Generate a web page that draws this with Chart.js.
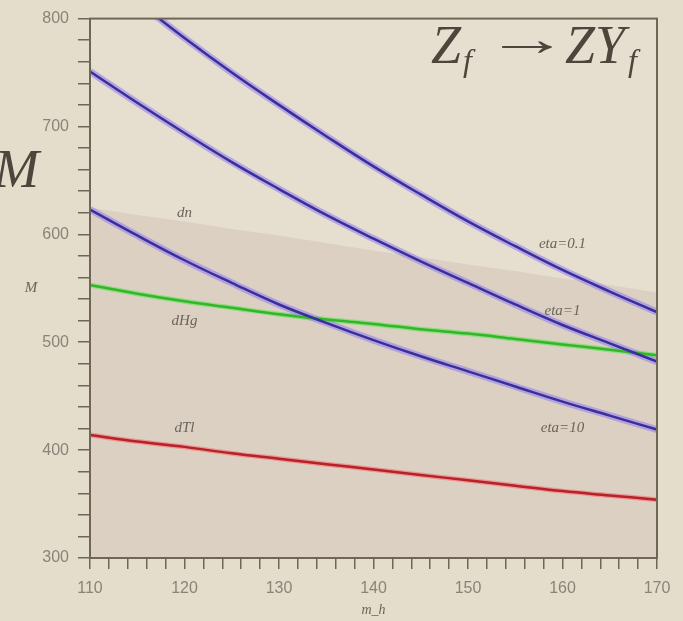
<!DOCTYPE html>
<html>
<head>
<meta charset="utf-8">
<script src="https://cdn.jsdelivr.net/npm/chart.js"></script>
<style>
  html, body { margin: 0; padding: 0; background: #e4ddcc; }
  #wrap { position: relative; width: 683px; height: 621px; overflow: hidden; }
  .tt { position: absolute; font-family: "Liberation Serif", serif; font-style: italic; color: #4d463d; white-space: nowrap; line-height: 1; }
  .big { font-size: 54px; top: 18px; }
  .sub { font-size: 32px; top: 44px; }
  #arrow { position: absolute; left: 485px; top: 15px; font-family: "Liberation Serif", serif; font-size: 48px; line-height: 1; color: #4d463d; transform: scaleX(1.75); transform-origin: left center; }
  #bigM { position: absolute; left: -6px; top: 142px; font-family: "Liberation Serif", serif; font-style: italic; font-size: 54px; line-height: 1; color: #4d463d; }
</style>
</head>
<body>
<div id="wrap">
  <canvas id="chart" width="683" height="621"></canvas>
  <div class="tt big" style="left:431px">Z</div>
  <div class="tt sub" style="left:463px">f</div>
  <div id="arrow">→</div>
  <div class="tt big" style="left:565px">ZY</div>
  <div class="tt sub" style="left:628px">f</div>
  <div id="bigM">M</div>
</div>
<script>
// m_h grid and curves
const mh = [110, 115, 120, 125, 130, 135, 140, 145, 150, 155, 160, 165, 170];
const eta01 = [852, 816, 782, 750, 720, 691, 663, 637, 612, 589, 567, 547, 528];
const eta1 = [751, 722, 694, 667, 642, 618, 596, 575, 555, 535, 516, 499, 482];
const eta10 = [623, 599, 576, 555, 535, 518, 502, 487, 473, 459, 445, 432, 419];
const dHg = [553, 545, 538, 532, 526, 521, 517, 512, 508, 503, 498, 493, 488];
const dTl = [414, 408, 403, 397, 392, 387, 382, 377, 372, 367, 362, 358, 354];
const dnEdge = [625, 618, 612, 605, 599, 592, 585, 579, 572, 566, 559, 553, 546];

const noteText = ["dn", "dHg", "dTl", "eta=0.1", "eta=1", "eta=10"];
const noteX = [120, 120, 120, 160, 160, 160];
const noteY = [620, 520, 420, 591, 529, 420];

const pts = arr => arr.map((v, i) => ({ x: mh[i], y: v }));

// glow lines sit under the dark core lines (higher order is drawn first)
function curve(arr, color, width, order) {
    return {
        data: pts(arr),
        borderColor: color,
        borderWidth: width,
        pointRadius: 0,
        tension: 0.4,
        fill: false,
        clip: 0,
        order: order
    };
}

const frame = {
    id: "frame",
    beforeDatasetsDraw(chart) {
        const a = chart.chartArea;
        const ctx = chart.ctx;
        ctx.save();
        ctx.fillStyle = "#e6dfcf";
        ctx.fillRect(a.left, a.top, a.right - a.left, a.bottom - a.top);
        ctx.restore();
    },
    afterDraw(chart) {
        const a = chart.chartArea;
        const ctx = chart.ctx;
        const xs = chart.scales.x, ys = chart.scales.y;
        ctx.save();
        ctx.strokeStyle = "#6e6659";
        ctx.lineWidth = 2;
        ctx.strokeRect(a.left, a.top, a.right - a.left, a.bottom - a.top);

        ctx.fillStyle = "#6a645a";
        ctx.font = "italic 15px 'Liberation Serif', serif";
        ctx.textAlign = "center";
        ctx.textBaseline = "middle";
        noteText.forEach((t, i) => {
            ctx.fillText(t, xs.getPixelForValue(noteX[i]), ys.getPixelForValue(noteY[i]));
        });

        ctx.font = "italic 15px 'Liberation Serif', serif";
        ctx.fillText("M", 31, 288);
        ctx.font = "italic 14px 'Liberation Serif', serif";
        ctx.fillText("m_h", (a.left + a.right) / 2, 610);
        ctx.restore();
    }
};

new Chart(document.getElementById("chart"), {
    type: "line",
    data: {
        datasets: [
            {
                data: pts(dnEdge),
                borderWidth: 0,
                pointRadius: 0,
                backgroundColor: "#dcd0c3",
                fill: "start",
                tension: 0,
                order: 10
            },
            curve(eta01, "rgba(150,130,240,0.6)", 7, 5),
            curve(eta01, "#3a2f98", 2.5, 1),
            curve(eta1, "rgba(150,130,240,0.6)", 7, 5),
            curve(eta1, "#3a2f98", 2.5, 1),
            curve(eta10, "rgba(150,130,240,0.6)", 7, 5),
            curve(eta10, "#3a2f98", 2.5, 1),
            curve(dHg, "rgba(90,230,80,0.6)", 5, 5),
            curve(dHg, "#36b52c", 2.5, 1),
            curve(dTl, "rgba(250,110,110,0.6)", 5, 5),
            curve(dTl, "#b4222a", 2.5, 1)
        ]
    },
    options: {
        responsive: false,
        animation: false,
        layout: { padding: { left: 0, top: 16, right: 26, bottom: 0 } },
        plugins: { legend: { display: false }, tooltip: { enabled: false } },
        scales: {
            x: {
                type: "linear",
                min: 110,
                max: 170,
                afterFit: s => { s.height = 621 - 558; },
                border: { display: false },
                grid: { drawOnChartArea: false, tickLength: 11, color: "#6e6659", lineWidth: 1.5 },
                ticks: {
                    stepSize: 2,
                    autoSkip: false,
                    maxRotation: 0,
                    padding: 10,
                    color: "#8a8378",
                    font: { family: "'Liberation Sans', sans-serif", size: 16 },
                    callback: v => (v % 10 === 0 ? v : "")
                }
            },
            y: {
                min: 300,
                max: 800,
                afterFit: s => { s.width = 90; },
                border: { display: false },
                grid: { drawOnChartArea: false, tickLength: 12, color: "#6e6659", lineWidth: 1.5 },
                ticks: {
                    stepSize: 20,
                    autoSkip: false,
                    padding: 9,
                    color: "#8a8378",
                    font: { family: "'Liberation Sans', sans-serif", size: 16 },
                    callback: v => (v % 100 === 0 ? v : "")
                }
            }
        }
    },
    plugins: [frame]
});
</script>
</body>
</html>
